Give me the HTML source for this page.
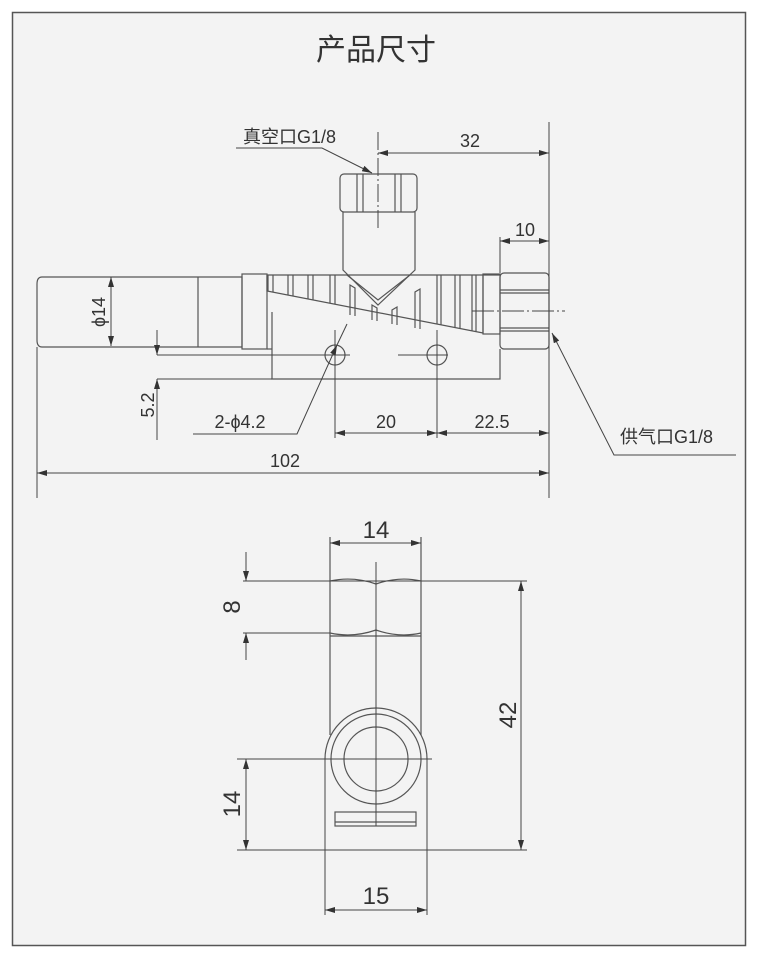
<!DOCTYPE html>
<html><head><meta charset="utf-8"><style>
html,body{margin:0;padding:0;background:#fff;}
svg{display:block;}
text{font-family:"Liberation Sans","Noto Sans CJK SC",sans-serif;fill:#333;}
</style></head><body>
<svg width="760" height="960" viewBox="0 0 760 960" xmlns="http://www.w3.org/2000/svg">
<defs>
<marker id="a" viewBox="0 0 10 6" refX="10" refY="3" markerWidth="10" markerHeight="6" orient="auto-start-reverse" markerUnits="userSpaceOnUse"><path d="M0,0 L10,3 L0,6 z" fill="#333"/></marker>
</defs>
<rect x="12.5" y="12.5" width="733" height="933" fill="#f3f3f3" stroke="#555" stroke-width="1.5"/>
<text x="376" y="60" font-size="30" text-anchor="middle" fill="#222">产品尺寸</text>
<g stroke="#555" stroke-width="1.2" fill="none">
<!-- left cylinder -->
<path d="M42,277 L242,277 L242,347 L42,347 Q37,347 37,340 L37,284 Q37,277 42,277 Z"/>
<line x1="198" y1="277" x2="198" y2="347"/>
<rect x="242" y="274" width="25" height="75"/>
<line x1="267" y1="349" x2="272" y2="349"/>
<!-- body lower -->
<path d="M272,312 L272,379 L500,379 L500,349"/>
<!-- finned -->
<path d="M267,275 L500,275"/>
<path d="M267,275 L267,291 L483,333 L483,275"/>
<rect x="483" y="274" width="17" height="60"/>
<g id="fins"></g>
<!-- top nut & stem -->
<rect x="340" y="174" width="77" height="38" rx="4"/>
<line x1="357" y1="174" x2="357" y2="212"/><line x1="363" y1="174" x2="363" y2="212"/>
<line x1="395" y1="174" x2="395" y2="212"/><line x1="401" y1="174" x2="401" y2="212"/>
<path d="M343,212 L343,270 L378,305 L415,270 L415,212"/>
<path d="M347,275 L378,300 L410,275"/>
<!-- right nut -->
<rect x="500" y="273" width="49" height="76" rx="4"/>
<line x1="500" y1="290" x2="549" y2="290"/><line x1="500" y1="293" x2="549" y2="293"/>
<line x1="500" y1="328" x2="549" y2="328"/><line x1="500" y1="331" x2="549" y2="331"/>
<!-- holes -->
<circle cx="335" cy="355" r="10"/><circle cx="437" cy="355" r="10"/>
</g>
<g stroke="#555" stroke-width="1.2">
<line x1="268" y1="275" x2="268" y2="291"/><line x1="273" y1="275" x2="273" y2="292"/>
<line x1="288" y1="275" x2="288" y2="295"/><line x1="293" y1="275" x2="293" y2="296"/>
<line x1="308" y1="275" x2="308" y2="299"/><line x1="313" y1="275" x2="313" y2="300"/>
<line x1="330" y1="275" x2="330" y2="303"/><line x1="335" y1="275" x2="335" y2="304"/>
<line x1="437" y1="275" x2="437" y2="324"/><line x1="441" y1="275" x2="441" y2="325"/>
<line x1="455" y1="275" x2="455" y2="327"/><line x1="460" y1="275" x2="460" y2="328"/>
<line x1="472" y1="275" x2="472" y2="331"/><line x1="476" y1="275" x2="476" y2="332"/>
<path d="M350,315 L350,285 L355,288 L355,316" fill="none"/>
<path d="M372,320 L372,305 L377,308 L377,321" fill="none"/>
<path d="M392,324 L392,310 L397,307 L397,325" fill="none"/>
<path d="M415,328 L415,292 L420,289 L420,329" fill="none"/>
</g>
<g stroke="#444" stroke-width="1" fill="none">
<!-- center lines -->
<line x1="378" y1="132" x2="378" y2="228" stroke-dasharray="18,3,2,3"/>
<line x1="472" y1="311" x2="565" y2="311" stroke-dasharray="22,3,2,3"/>
<line x1="157" y1="355" x2="350" y2="355"/>
<line x1="398" y1="355" x2="448" y2="355"/>
<line x1="335" y1="330" x2="335" y2="438"/>
<line x1="437" y1="330" x2="437" y2="438"/>
<!-- ext -->
<line x1="549" y1="122" x2="549" y2="498"/>
<line x1="500" y1="237" x2="500" y2="273"/>
<line x1="37" y1="347" x2="37" y2="498"/>
<!-- dims -->
<line x1="378" y1="153" x2="549" y2="153" marker-start="url(#a)" marker-end="url(#a)"/>
<line x1="500" y1="241" x2="549" y2="241" marker-start="url(#a)" marker-end="url(#a)"/>
<line x1="111" y1="277" x2="111" y2="346" marker-start="url(#a)" marker-end="url(#a)"/>
<line x1="157" y1="330" x2="157" y2="355" marker-end="url(#a)"/>
<line x1="157" y1="440" x2="157" y2="379" marker-end="url(#a)"/>
<line x1="157" y1="379" x2="272" y2="379"/>
<line x1="335" y1="433" x2="437" y2="433" marker-start="url(#a)" marker-end="url(#a)"/>
<line x1="437" y1="433" x2="549" y2="433" marker-start="url(#a)" marker-end="url(#a)"/>
<line x1="37" y1="473" x2="549" y2="473" marker-start="url(#a)" marker-end="url(#a)"/>
<!-- leaders -->
<polyline points="236,148 322,148 372,173" marker-end="url(#a)" fill="none"/>
<polyline points="193,434 297,434 337,345" marker-end="url(#a)" fill="none"/>
<line x1="337" y1="345" x2="347" y2="324"/>
<polyline points="736,455 614,455 552,333" marker-end="url(#a)" fill="none"/>
</g>
<g font-size="18">
<text x="243" y="143">真空口G1/8</text>
<text x="470" y="147" text-anchor="middle">32</text>
<text x="525" y="236" text-anchor="middle">10</text>
<text transform="translate(105,312) rotate(-90)" text-anchor="middle">ϕ14</text>
<text transform="translate(154,405) rotate(-90)" text-anchor="middle">5.2</text>
<text x="240" y="428" text-anchor="middle">2-ϕ4.2</text>
<text x="386" y="428" text-anchor="middle">20</text>
<text x="492" y="428" text-anchor="middle">22.5</text>
<text x="285" y="467" text-anchor="middle">102</text>
<text x="620" y="443">供气口G1/8</text>
</g>
<!-- bottom view -->
<g stroke="#555" stroke-width="1.2" fill="none">
<line x1="330" y1="537" x2="330" y2="735"/>
<line x1="421" y1="537" x2="421" y2="735"/>
<path d="M330,581 Q353,576 376,584 Q399,576 421,581"/>
<path d="M330,633 Q353,638 376,630 Q399,638 421,633"/>
<line x1="330" y1="636" x2="421" y2="636"/>
<path d="M325,759 A51,51 0 0 1 427,759"/>
<circle cx="376" cy="759" r="45"/>
<circle cx="376" cy="759" r="32"/>
<rect x="335" y="812" width="81" height="14"/>
<line x1="335" y1="822" x2="416" y2="822"/>
</g>
<g stroke="#444" stroke-width="1" fill="none">
<line x1="325" y1="759" x2="325" y2="915"/>
<line x1="427" y1="759" x2="427" y2="915"/>
<line x1="376" y1="562" x2="376" y2="826"/>
<line x1="243" y1="581" x2="527" y2="581"/>
<line x1="243" y1="633" x2="330" y2="633"/>
<line x1="237" y1="759" x2="432" y2="759"/>
<line x1="237" y1="850" x2="527" y2="850"/>
<line x1="330" y1="543" x2="421" y2="543" marker-start="url(#a)" marker-end="url(#a)"/>
<line x1="246" y1="552" x2="246" y2="581" marker-end="url(#a)"/>
<line x1="246" y1="660" x2="246" y2="633" marker-end="url(#a)"/>
<line x1="521" y1="581" x2="521" y2="850" marker-start="url(#a)" marker-end="url(#a)"/>
<line x1="246" y1="759" x2="246" y2="850" marker-start="url(#a)" marker-end="url(#a)"/>
<line x1="325" y1="910" x2="427" y2="910" marker-start="url(#a)" marker-end="url(#a)"/>
</g>
<g font-size="24">
<text x="376" y="538" text-anchor="middle">14</text>
<text transform="translate(240,607) rotate(-90)" text-anchor="middle">8</text>
<text transform="translate(516,715) rotate(-90)" text-anchor="middle">42</text>
<text transform="translate(240,804) rotate(-90)" text-anchor="middle">14</text>
<text x="376" y="904" text-anchor="middle">15</text>
</g>
</svg>
</body></html>
